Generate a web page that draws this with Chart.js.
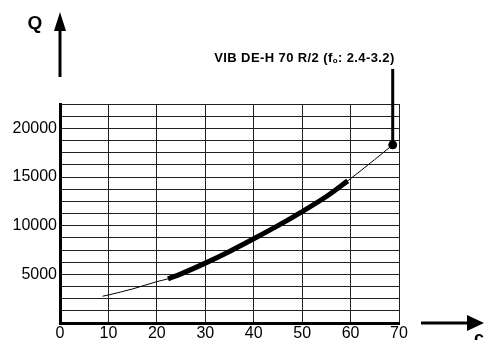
<!DOCTYPE html>
<html>
<head>
<meta charset="utf-8">
<script src="https://cdn.jsdelivr.net/npm/chart.js@4/dist/chart.umd.min.js"></script>
<style>
  body { margin: 0; background: #fff; }
  #wrap { width: 484px; height: 340px; }
</style>
</head>
<body>
<div id="wrap"><canvas id="chart" width="484" height="340"></canvas></div>
<script>
// values
var curveX = [8.8, 10, 15, 20, 22.3, 25, 30, 35, 40, 45, 50, 55, 59.4, 65, 68.7];
var curveQ = [2750, 2880, 3500, 4250, 4540, 5050, 6150, 7350, 8650, 10000, 11450, 13000, 14600, 16800, 18300];
var rangeFrom = 22.3, rangeTo = 59.4;       // thick (working) part of the curve
var markX = [68.7], markQ = [18300];        // labelled point
var xTicks = [0, 10, 20, 30, 40, 50, 60, 70];
var yLabels = [5000, 10000, 15000, 20000];
var seriesName = "VIB DE-H 70 R/2";
var freqRange = ": 2.4-3.2)";

var FONT = "'Liberation Sans', Arial, sans-serif";

function pts(xs, ys) {
    var out = [];
    for (var i = 0; i < xs.length; i++) out.push({x: xs[i], y: ys[i]});
    return out;
}

var allPts = pts(curveX, curveQ);
var thickPts = allPts.filter(function (p) { return p.x >= rangeFrom && p.x <= rangeTo; });

var extras = {
    id: 'extras',
    afterDraw: function (chart) {
        var ctx = chart.ctx;
        var xs = chart.scales.x, ys = chart.scales.y;
        ctx.save();
        ctx.fillStyle = '#000';
        ctx.strokeStyle = '#000';

        // Q label + up arrow
        ctx.font = 'bold 19px ' + FONT;
        ctx.textAlign = 'center';
        ctx.textBaseline = 'alphabetic';
        ctx.fillText('Q', 35, 29);
        ctx.lineWidth = 3;
        ctx.beginPath();
        ctx.moveTo(60, 77);
        ctx.lineTo(60, 26);
        ctx.stroke();
        ctx.beginPath();
        ctx.moveTo(60, 12);
        ctx.lineTo(66, 31);
        ctx.lineTo(54, 31);
        ctx.closePath();
        ctx.fill();

        // right arrow + cut-off axis letter
        ctx.beginPath();
        ctx.moveTo(421, 323);
        ctx.lineTo(469, 323);
        ctx.stroke();
        ctx.beginPath();
        ctx.moveTo(484, 323);
        ctx.lineTo(467, 315);
        ctx.lineTo(467, 331);
        ctx.closePath();
        ctx.fill();
        ctx.font = 'bold 18px ' + FONT;
        ctx.textAlign = 'left';
        ctx.fillText('c', 474, 344);

        // leader line from the marked point up to the label
        var px = xs.getPixelForValue(markX[0]);
        var py = ys.getPixelForValue(markQ[0]);
        ctx.lineWidth = 3;
        ctx.beginPath();
        ctx.moveTo(px, py);
        ctx.lineTo(px, 69);
        ctx.stroke();

        // label text with small subscript o
        ctx.letterSpacing = '0.4px';
        var part1 = seriesName + ' (f';
        ctx.font = 'bold 13px ' + FONT;
        var w1 = ctx.measureText(part1).width;
        var w3 = ctx.measureText(freqRange).width;
        ctx.font = 'bold 8px ' + FONT;
        var w2 = ctx.measureText('o').width;
        var right = px + 2;
        var left = right - (w1 + w2 + w3);
        ctx.textAlign = 'left';
        ctx.font = 'bold 13px ' + FONT;
        ctx.fillText(part1, left, 62);
        ctx.font = 'bold 8px ' + FONT;
        ctx.fillText('o', left + w1, 63);
        ctx.font = 'bold 13px ' + FONT;
        ctx.fillText(freqRange, left + w1 + w2, 62);
        ctx.restore();
    }
};

var ctx = document.getElementById('chart').getContext('2d');
var chart = new Chart(ctx, {
    type: 'scatter',
    data: {
        datasets: [{
            data: allPts,
            showLine: true,
            borderColor: '#000',
            borderWidth: 1,
            pointRadius: 0,
            cubicInterpolationMode: 'monotone'
        }, {
            data: thickPts,
            showLine: true,
            borderColor: '#000',
            borderWidth: 5,
            pointRadius: 0,
            cubicInterpolationMode: 'monotone'
        }, {
            data: pts(markX, markQ),
            showLine: false,
            pointRadius: 4,
            pointBackgroundColor: '#000',
            pointBorderColor: '#000'
        }]
    },
    options: {
        responsive: false,
        animation: false,
        layout: { padding: { left: 0, right: 85, top: 104, bottom: 0 } },
        plugins: { legend: { display: false }, tooltip: { enabled: false } },
        scales: {
            x: {
                type: 'linear',
                min: 0,
                max: 70,
                afterFit: function (a) { a.height = 17; },
                afterBuildTicks: function (a) {
                    a.ticks = xTicks.map(function (v) { return {value: v}; });
                },
                ticks: {
                    color: '#000',
                    padding: 1,
                    font: { family: FONT, size: 16 }
                },
                grid: { color: '#222', lineWidth: 1, drawTicks: false },
                border: { color: '#000', width: 3 }
            },
            y: {
                min: 0,
                max: 22500,
                afterFit: function (a) { a.width = 60; },
                ticks: {
                    stepSize: 1250,
                    autoSkip: false,
                    color: '#000',
                    padding: 3,
                    font: { family: FONT, size: 16 },
                    callback: function (v) {
                        return yLabels.indexOf(v) >= 0 ? String(v) : '';
                    }
                },
                grid: { color: '#222', lineWidth: 1, drawTicks: false },
                border: { color: '#000', width: 3 }
            }
        }
    },
    plugins: [extras]
});
</script>
</body>
</html>
